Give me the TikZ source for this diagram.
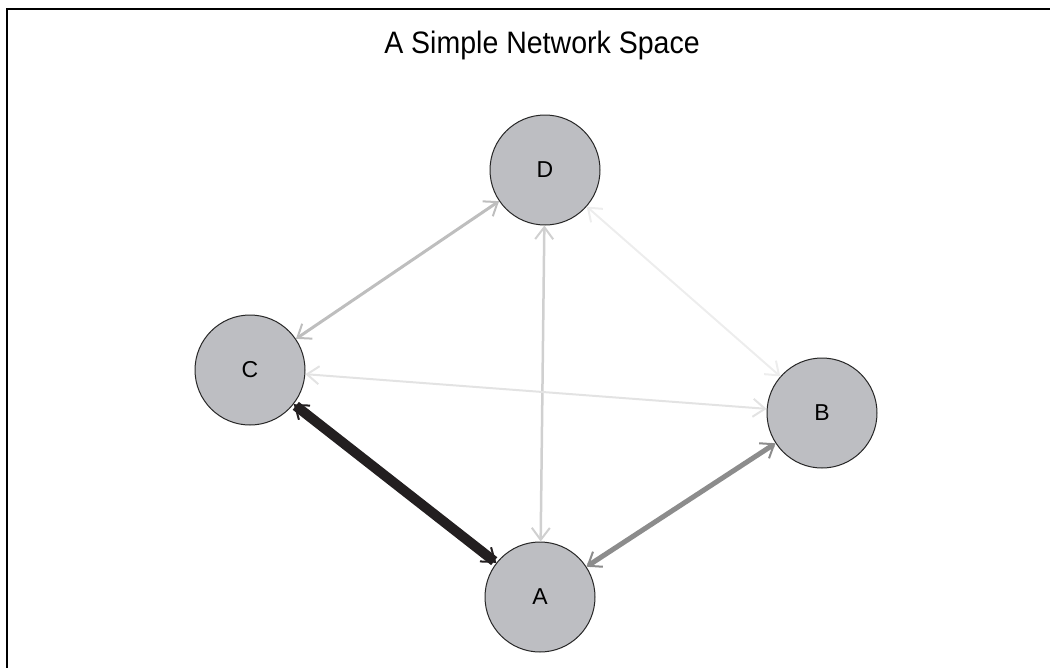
\documentclass[tikz,border=0pt]{standalone}
\usepackage{fontspec}
\setmainfont{Liberation Sans}
\newfontfamily\titlefont[FakeStretch=0.92]{Liberation Sans}
\usetikzlibrary{arrows.meta}
\definecolor{nodegray}{HTML}{BDBEC2}
\definecolor{linkdark}{HTML}{231F20}
\definecolor{linkmid}{HTML}{8C8C8C}
\definecolor{linklight}{HTML}{BEBEBE}
\definecolor{linkpale}{HTML}{D0D0D0}
\definecolor{linkfaint}{HTML}{E3E3E3}
\definecolor{linkghost}{HTML}{EDEDED}

\begin{document}
\begin{tikzpicture}[x=1pt,y=-1pt,
net node/.style={circle,draw=black!85,line width=1pt,fill=nodegray,minimum size=110pt,inner sep=0pt,
  font=\fontsize{23}{27}\selectfont},
link/.style={{Straight Barb[length=12pt,width=18pt,line width=2pt]}-{Straight Barb[length=12pt,width=18pt,line width=2pt]}}]
\useasboundingbox (0,0) rectangle (1050,667);
\clip (0,0) rectangle (1050,667);
% frame and title
\draw[line width=2.5pt] (7,690) -- (7,9) -- (1060,9);
\node[font=\titlefont\fontsize{31}{35}\selectfont] (title) at (542,45) {A Simple Network Space};
% the four nodes
\foreach \name/\x/\y in {A/540/597,B/822/413,C/250/370,D/545/170}
{
\node [net node] (\name) at (\x,\y) {\name};
}
% links between them
\foreach \from/\to/\col/\w in {C/D/linklight/3,D/A/linkpale/2.5,D/B/linkghost/2,C/B/linkfaint/2,A/B/linkmid/5,C/A/linkdark/10}
{
\draw [link,draw=\col,line width=\w pt] (\from) -- (\to);
}
\end{tikzpicture}
\end{document}
